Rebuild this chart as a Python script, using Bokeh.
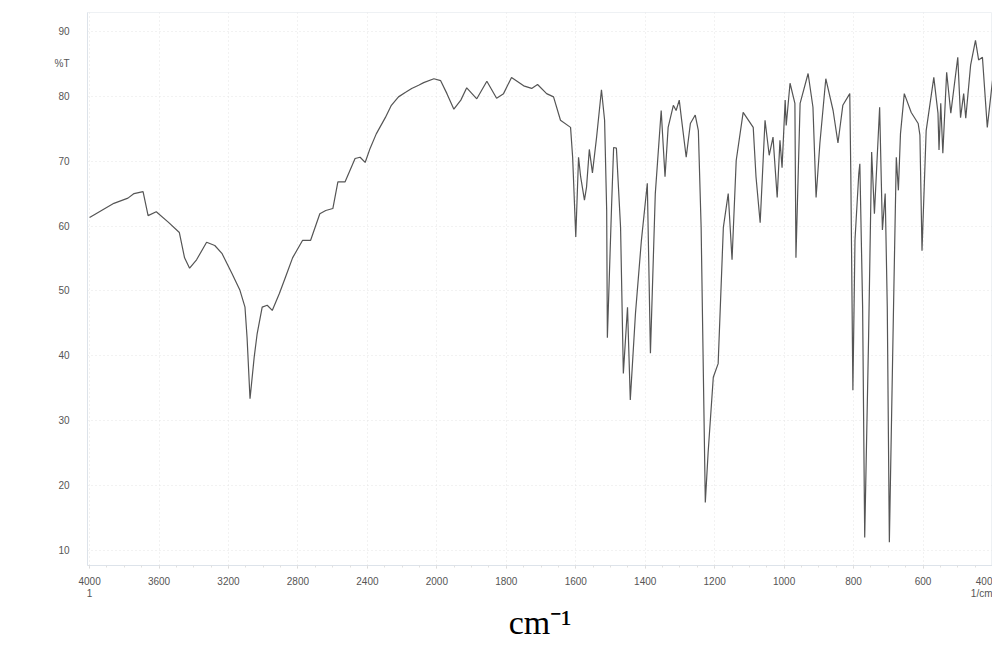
from bokeh.plotting import figure
from bokeh.models import FixedTicker, LinearAxis, Range1d
from bokeh.embed import file_html
from bokeh.resources import INLINE

# IR spectrum: wavenumber (1/cm) and transmittance (%T)
WAVENUMBER = [
    4000, 3860, 3779, 3744, 3692, 3663, 3616, 3547, 3483, 3453, 3424, 3384, 3326, 3279,
    3238, 3180, 3134, 3105, 3093, 3076, 3052, 3035, 3006, 2977, 2948, 2907, 2872, 2831, 2773,
    2727, 2674, 2640, 2599, 2570, 2529, 2471, 2442, 2413, 2384, 2349, 2297, 2262, 2221, 2180,
    2145, 2105, 2076, 2017, 1989, 1971, 1951, 1931, 1914, 1885, 1856, 1828, 1808, 1785, 1750,
    1727, 1710, 1684, 1664, 1644, 1615, 1609, 1600, 1592, 1586, 1575, 1569, 1561, 1552, 1540,
    1526, 1517, 1511, 1509, 1497, 1491, 1483, 1471, 1463, 1451, 1443, 1428, 1411, 1394,
    1385, 1371, 1354, 1343, 1334, 1319, 1311, 1302, 1296, 1282, 1270, 1256, 1247, 1239,
    1227, 1219, 1204, 1190, 1175, 1161, 1150, 1138, 1118, 1089, 1081, 1069, 1055, 1043,
    1032, 1020, 1012, 1006, 997, 994, 983, 969, 966, 954, 931, 917, 908, 897, 880, 859,
    845, 831, 811, 808, 802, 796, 785, 782, 774, 768, 757, 748, 740, 725, 717, 709, 703,
    697, 685, 677, 671, 665, 654, 634, 614, 609, 603, 591, 569, 557, 554, 549, 543, 532,
    520, 500, 492, 483, 477, 463, 449, 440, 429, 415, 400,
]
TRANSMITTANCE = [
    61.3, 63.5, 64.3, 65.0, 65.3, 61.6, 62.2, 60.6, 59.0, 55.1, 53.5, 54.8, 57.5, 57.0,
    55.8, 52.7, 50.1, 47.5, 42.8, 33.4, 39.8, 43.4, 47.5, 47.8, 47.0, 49.6, 52.1, 55.1, 57.8,
    57.8, 61.9, 62.4, 62.7, 66.8, 66.8, 70.4, 70.6, 69.8, 72.0, 74.2, 76.7, 78.6, 79.9, 80.6,
    81.2, 81.7, 82.1, 82.7, 82.4, 80.4, 78.0, 79.4, 81.3, 79.6, 82.3, 79.7, 80.4, 82.9, 81.6,
    81.2, 81.8, 80.4, 79.9, 76.3, 75.2, 70.6, 58.3, 70.6, 67.6, 64.0, 66.0, 71.8, 68.2, 73.7,
    81.0, 76.3, 62.4, 42.8, 62.9, 72.1, 72.0, 59.8, 37.3, 47.5, 33.2, 46.6, 57.8, 66.6,
    40.4, 65.0, 77.8, 67.6, 75.2, 78.6, 77.8, 79.4, 76.7, 70.6, 75.8, 77.1, 74.7, 59.8,
    17.4, 25.0, 36.7, 38.8, 59.8, 65.0, 54.8, 70.1, 77.5, 75.2, 67.6, 60.5, 76.3, 70.9,
    73.7, 64.4, 73.2, 69.0, 79.4, 75.5, 82.0, 78.9, 55.1, 78.9, 83.5, 78.3, 64.4, 72.8, 82.7, 77.8,
    72.8, 78.6, 80.4, 68.1, 34.7, 57.8, 68.1, 69.6, 47.5, 12.0, 42.3, 71.4, 61.9, 78.3, 59.4, 65.0, 47.5,
    11.3, 47.5, 70.6, 65.5, 74.2, 80.4, 77.5, 75.8, 74.0, 56.2, 74.7, 82.9, 77.4, 71.7, 78.9, 71.2, 83.7,
    77.4, 86.0, 76.7, 80.4, 76.6, 84.8, 88.6, 85.6, 86.0, 75.2, 82.4,
]
X_TICKS = [4000, 3600, 3200, 2800, 2400, 2000, 1800, 1600, 1400, 1200, 1000, 800, 600, 400]
Y_TICKS = [10, 20, 30, 40, 50, 60, 70, 80, 90]
Y_UNIT_TEXT = "%T"
Y_UNIT_AT = 85
X_UNIT_TEXT = "1/cm"
X_UNIT_AT = 418        # under the right end of the axis
X_COUNT_TEXT = "1"
X_TITLE = "cm\u207b\u00b9"


def to_axis(w):
    # chart scale halves above 2000 1/cm
    return (4000 - w) / 2 if w >= 2000 else 1000 + (2000 - w)


xs = [to_axis(w) for w in WAVENUMBER]

p = figure(width=992, height=647, output_backend="svg", toolbar_location=None,
           x_range=Range1d(-6, 2600), y_range=Range1d(7.7, 92.9),
           min_border_left=87, min_border_right=0, min_border_top=12, min_border_bottom=82,
           background_fill_color="white", border_fill_color="white")
p.outline_line_color = "#eef1f4"

p.line(xs, TRANSMITTANCE, line_color="#555555", line_width=1.2)

x_tick_pos = [to_axis(w) for w in X_TICKS]
p.xaxis.ticker = FixedTicker(ticks=x_tick_pos,
                             minor_ticks=[u for u in range(0, 2601, 50)])
p.xaxis.major_label_overrides = {u: str(w) for u, w in zip(x_tick_pos, X_TICKS)}
p.yaxis.ticker = FixedTicker(ticks=Y_TICKS + [Y_UNIT_AT])
p.yaxis.major_label_overrides = {Y_UNIT_AT: Y_UNIT_TEXT}
p.xgrid.ticker = FixedTicker(ticks=x_tick_pos)
p.ygrid.ticker = FixedTicker(ticks=Y_TICKS)

for ax in (p.xaxis, p.yaxis):
    ax.axis_line_color = "#dde3ea"
    ax.major_tick_line_color = "#d5d5d5"
    ax.minor_tick_line_color = "#e0e0e0"
    ax.major_label_text_font = "Liberation Sans"
    ax.major_label_text_font_size = "10px"
    ax.major_label_text_color = "#555555"

p.xaxis.major_tick_in = 0
p.xaxis.major_tick_out = 3
p.xaxis.minor_tick_in = 0
p.xaxis.minor_tick_out = 2
p.xaxis.major_label_standoff = 8
p.yaxis.major_tick_in = 0
p.yaxis.major_tick_out = 0
p.yaxis.minor_tick_out = 0
p.yaxis.major_label_standoff = 18

# second row under the x axis: "1", "1/cm" and the title
sub = LinearAxis(ticker=FixedTicker(ticks=[to_axis(4000), to_axis(X_UNIT_AT)]),
                 major_label_overrides={to_axis(4000): X_COUNT_TEXT,
                                        to_axis(X_UNIT_AT): X_UNIT_TEXT})
sub.axis_line_color = None
sub.major_tick_line_color = None
sub.minor_tick_line_color = None
sub.major_tick_out = 0
sub.major_label_standoff = 0
sub.major_label_text_font = "Liberation Sans"
sub.major_label_text_font_size = "10px"
sub.major_label_text_color = "#555555"
sub.axis_label = X_TITLE
sub.axis_label_text_font = "Liberation Serif"
sub.axis_label_text_font_size = "34px"
sub.axis_label_text_font_style = "normal"
sub.axis_label_text_color = "black"
sub.axis_label_standoff = 2
p.add_layout(sub, "below")

p.xgrid.grid_line_color = "#e4e4e4"
p.xgrid.grid_line_dash = "1 3"
p.ygrid.grid_line_color = "#e4e4e4"
p.ygrid.grid_line_dash = "1 3"

open("out.html", "w").write(file_html(p, INLINE))
